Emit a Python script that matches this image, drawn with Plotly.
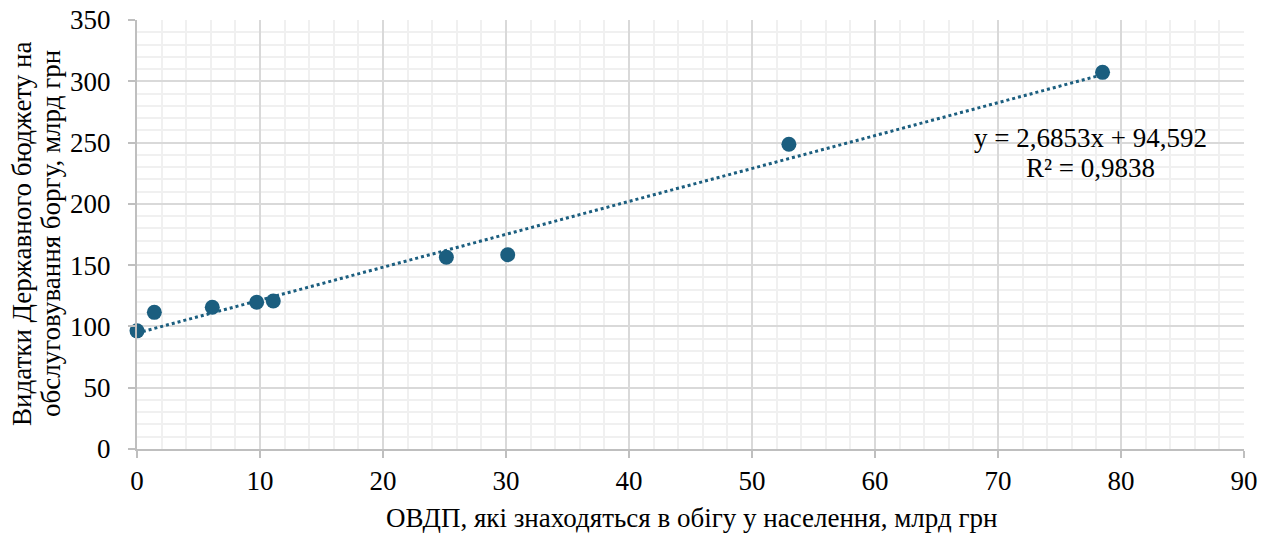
import plotly.graph_objects as go
import numpy as np

# Data
ovdp_population = [0.0, 1.41, 6.12, 9.73, 11.08, 25.15, 30.14, 53.0, 78.5]
debt_service_exp = [96.4, 111.5, 115.6, 119.7, 120.7, 156.4, 158.5, 248.6, 307.3]

trend_slope = 2.6853
trend_intercept = 94.592
trend_r2 = 0.9838

x_ticks = [0, 10, 20, 30, 40, 50, 60, 70, 80, 90]
y_ticks = [0, 50, 100, 150, 200, 250, 300, 350]

x_title = "ОВДП, які знаходяться в обігу у населення, млрд грн"
y_title_lines = ["Видатки Державного бюджету на", "обслуговування боргу, млрд грн"]

color = "#1b5e7f"
font_family = "Liberation Serif, Times New Roman, serif"
FS = 27

# page body has an 8px default margin; compensate so the plot lands where intended
OFF = 8
W, H = 1270 - OFF, 533 - OFF
ML, MR, MT, MB = 137 - OFF, 26, 20 - OFF, 84
PW, PH = W - ML - MR, H - MT - MB


def px_x(p):
    # p: screen pixel x
    return (p - OFF - ML) / PW


def px_y(p):
    return (H - MB - (p - OFF)) / PH


tx = np.array([min(ovdp_population), max(ovdp_population)])
ty = trend_slope * tx + trend_intercept

fig = go.Figure()
fig.add_trace(go.Scatter(
    x=tx, y=ty, mode="lines",
    line=dict(color=color, width=3, dash="dot"),
    showlegend=False, hoverinfo="skip"))
fig.add_trace(go.Scatter(
    x=ovdp_population, y=debt_service_exp, mode="markers",
    marker=dict(color=color, size=15, line=dict(width=0)),
    showlegend=False, cliponaxis=False))

eq = f"y = {trend_slope:.4f}x + {trend_intercept:.3f}".replace(".", ",")
r2 = f"R² = {trend_r2:.4f}".replace(".", ",")
for txt, yp in [(eq, 138), (r2, 168)]:
    fig.add_annotation(x=px_x(1090), y=px_y(yp), xref="paper", yref="paper",
                       text=txt, showarrow=False, xanchor="center", yanchor="middle",
                       font=dict(family=font_family, size=FS, color="#000000"))

# axis titles
fig.add_annotation(x=px_x(691), y=px_y(518), xref="paper", yref="paper",
                   text=x_title, showarrow=False, xanchor="center", yanchor="middle",
                   font=dict(family=font_family, size=FS, color="#000000"))
for txt, xp in [(y_title_lines[0], 22), (y_title_lines[1], 51)]:
    fig.add_annotation(x=px_x(xp), y=px_y(234), xref="paper", yref="paper",
                       text=txt, showarrow=False, textangle=-90,
                       xanchor="center", yanchor="middle",
                       font=dict(family=font_family, size=FS, color="#000000"))

fig.update_layout(
    width=W, height=H,
    margin=dict(l=ML, r=MR, t=MT, b=MB),
    paper_bgcolor="white", plot_bgcolor="white",
    font=dict(family=font_family, size=FS, color="#000000"),
)
fig.update_xaxes(
    range=[0, 90], tickvals=x_ticks, ticktext=[str(v) for v in x_ticks],
    showgrid=True, gridcolor="#d9d9d9", gridwidth=1.5,
    minor=dict(dtick=2, showgrid=True, gridcolor="#f0f0f0", gridwidth=1.5, ticks=""),
    showline=True, linecolor="#bfbfbf", linewidth=2,
    ticks="outside", ticklen=7, tickcolor="#bfbfbf", tickwidth=1.5,
    zeroline=False, automargin=False, ticklabelstandoff=0,
    ticklabeloverflow="allow",
)
fig.update_yaxes(
    range=[0, 350], tickvals=y_ticks, ticktext=[str(v) for v in y_ticks],
    showgrid=True, gridcolor="#d9d9d9", gridwidth=1.5,
    minor=dict(dtick=10, showgrid=True, gridcolor="#f0f0f0", gridwidth=1.5, ticks=""),
    showline=True, linecolor="#bfbfbf", linewidth=2,
    ticks="outside", ticklen=7, tickcolor="#bfbfbf", tickwidth=1.5,
    zeroline=False, automargin=False, ticklabelstandoff=12,
    ticklabeloverflow="allow",
)

fig.write_html("out.html")
